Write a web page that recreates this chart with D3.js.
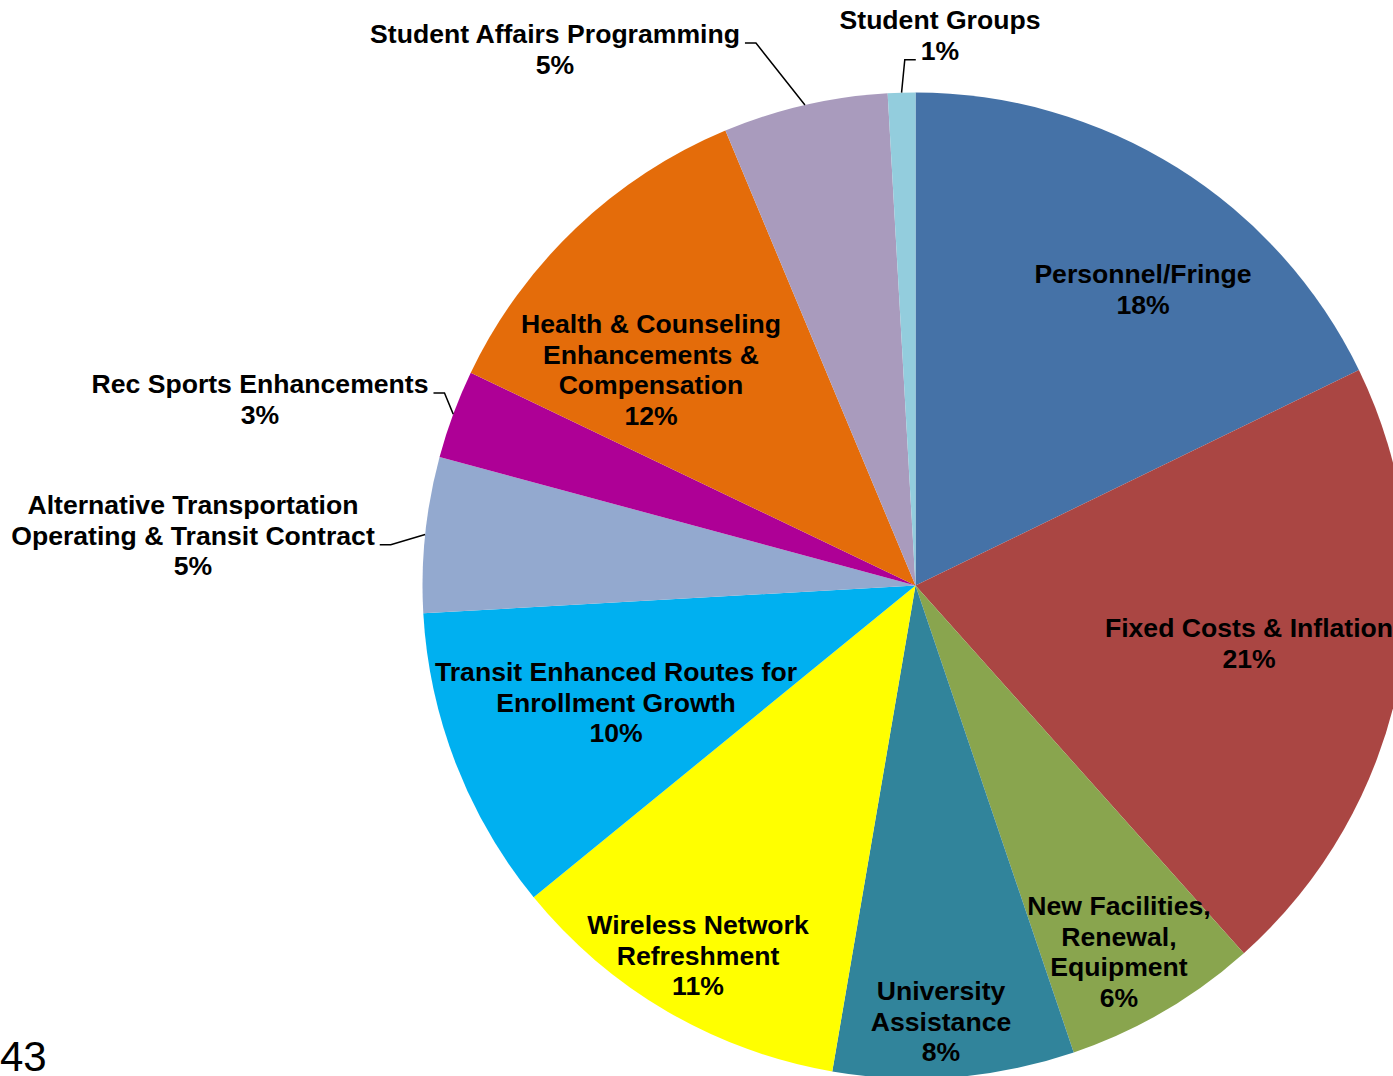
<!DOCTYPE html>
<html>
<head>
<meta charset="utf-8">
<script src="https://cdn.jsdelivr.net/npm/d3@7"></script>
<style>
  html, body { margin: 0; padding: 0; background: #ffffff; overflow: hidden; }
  svg { display: block; }
  text { font-family: "Liberation Sans", Arial, sans-serif; }
</style>
</head>
<body>
<svg id="chart" width="1393" height="1076"></svg>
<script>
// Budget allocation by category (share of total, in percent)
const categories = [
  "Personnel/Fringe",
  "Fixed Costs & Inflation",
  "New Facilities,\nRenewal,\nEquipment",
  "University\nAssistance",
  "Wireless Network\nRefreshment",
  "Transit Enhanced Routes for\nEnrollment Growth",
  "Alternative Transportation\nOperating & Transit Contract",
  "Rec Sports Enhancements",
  "Health & Counseling\nEnhancements &\nCompensation",
  "Student Affairs Programming",
  "Student Groups"
];
const values = [17.8, 20.6, 6.4, 7.9, 11.4, 10.0, 5.1, 2.9, 11.6, 5.4, 0.9];
const colors = [
  "#4572A7", "#AA4643", "#89A54E", "#31849B", "#FFFF00", "#00B0F0",
  "#93A9CF", "#AE0096", "#E46C0A", "#A99BBD", "#93CDDD"
];
const pageNumber = "43";

// Label placement: centre x, first baseline, optional leader attachment
const labelLayout = [
  { x: 1143, y: 283 },
  { x: 1249, y: 637 },
  { x: 1119, y: 915 },
  { x: 941,  y: 1000 },
  { x: 698,  y: 934 },
  { x: 616,  y: 681 },
  { x: 193,  y: 514, leader: { line: 1, side: "right" } },
  { x: 260,  y: 393, leader: { line: 0, side: "right" } },
  { x: 651,  y: 333 },
  { x: 555,  y: 43,  leader: { line: 0, side: "right" } },
  { x: 940,  y: 29,  leader: { line: 1, side: "left" } }
];

const cx = 915.5, cy = 585.5, radius = 493;
const fontSize = 26.6, lineGap = 30.7;

const svg = d3.select("#chart");
const total = d3.sum(values);

const pie = d3.pie().sort(null).value(d => d)(values);
const arc = d3.arc().innerRadius(0).outerRadius(radius);
const edge = d3.arc().innerRadius(radius).outerRadius(radius);

const g = svg.append("g").attr("transform", `translate(${cx},${cy})`);

g.selectAll("path.slice")
  .data(pie)
  .join("path")
  .attr("class", "slice")
  .attr("d", arc)
  .attr("fill", (d, i) => colors[i]);

// Labels, with elbow leaders for the ones placed outside the pie
const labels = svg.append("g");
pie.forEach((d, i) => {
  const lay = labelLayout[i];
  const pct = Math.round(d.value / total * 100) + "%";
  const lines = categories[i].split("\n").concat([pct]);
  const lg = labels.append("g");
  const nodes = lines.map((t, k) =>
    lg.append("text")
      .attr("x", lay.x)
      .attr("y", lay.y + k * lineGap)
      .attr("text-anchor", "middle")
      .attr("font-size", fontSize)
      .attr("font-weight", "bold")
      .attr("fill", "#000")
      .text(t)
  );
  if (lay.leader) {
    const node = nodes[lay.leader.line].node();
    const w = node.getComputedTextLength();
    const yb = lay.y + lay.leader.line * lineGap;
    const dir = lay.leader.side === "right" ? 1 : -1;
    const x0 = lay.x + dir * (w / 2 + 5);
    const x1 = x0 + dir * 11;
    const p = edge.centroid(d);
    svg.append("polyline")
      .attr("points", [[x0, yb], [x1, yb], [cx + p[0], cy + p[1]]].map(q => q.join(",")).join(" "))
      .attr("fill", "none")
      .attr("stroke", "#000")
      .attr("stroke-width", 1.5);
  }
});

// Page number
svg.append("text")
  .attr("x", 0)
  .attr("y", 1071)
  .attr("font-size", 42)
  .attr("fill", "#000")
  .text(pageNumber);
</script>
</body>
</html>
